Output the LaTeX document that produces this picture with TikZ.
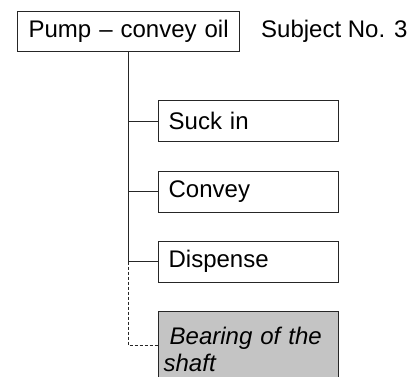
\documentclass[tikz,border=0pt]{standalone}
\usepackage{fontspec}
\setmainfont{Liberation Sans}
\begin{document}
\begin{tikzpicture}[x=1pt,y=-1pt,
  every node/.style={font=\fontsize{24}{27}\selectfont},
  line/.style={line width=1.3pt, draw=black!85},
  box/.style={line, rectangle, anchor=north west, minimum width=180pt,
    minimum height=41pt, text width=160pt, inner xsep=10pt, align=left},
  dotline/.style={line width=1.2pt, draw=black!85, dash pattern=on 3pt off 2pt}]
\useasboundingbox (0,0) rectangle (410,376);
\clip (0,0) rectangle (410,376);
% root box and subject label
\node[line, rectangle, anchor=north west, minimum width=222pt, minimum height=40pt,
  text width=206pt, inner xsep=8pt, align=center] (root) at (17,11) {Pump -- convey oil};
\node[anchor=west, inner sep=0pt] (subj) at (261,31) {Subject No. 3};
% sub-functions
\node[box] (suck) at (158,100) {Suck in};
\node[box] (convey) at (158,170.5) {Convey};
\node[box] (disp) at (158,240.5) {Dispense};
\node[box, fill=black!23, minimum height=76pt, text width=174pt, inner xsep=3pt,
  font=\fontsize{24}{27}\selectfont\itshape] (bear) at (158,311)
  {\hspace*{8pt}Bearing of the\\[-0.5pt]\hspace*{2pt}shaft};
% tree connectors
\coordinate (trunk) at (root.south -| 128.5,0);
\coordinate (mid) at (disp.west -| trunk);
\coordinate (corner) at (128.5,345.5);
\coordinate (bearin) at (bear.west |- corner);
\draw[line] (trunk) -- (mid);
\draw[line] (suck.west -| trunk) -- (suck.west);
\draw[line] (convey.west -| trunk) -- (convey.west);
\draw[line] (mid) -- (disp.west);
\draw[dotline] (mid) -- (corner) -- (bearin);
\end{tikzpicture}
\end{document}
